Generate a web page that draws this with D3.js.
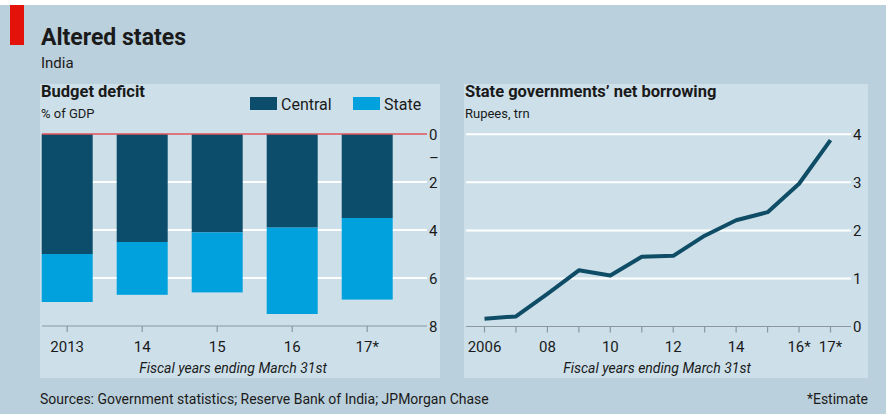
<!DOCTYPE html>
<html><head><meta charset="utf-8">
<script src="https://cdn.jsdelivr.net/npm/d3@7"></script>
<style>
html,body{margin:0;padding:0;background:#fff;}
svg text{font-family:Roboto,"Open Sans",sans-serif;fill:#1a1a1a;}
</style></head><body>
<svg id="c" width="886" height="414"></svg>
<script>
// ---- data ----
const barYears = ["2013","14","15","16","17*"];
const central = [5.0, 4.5, 4.1, 3.9, 3.5];
const state   = [2.0, 2.2, 2.5, 3.6, 3.4];
const leftTicks = [0, 2, 4, 6, 8];

const lineYears = [2006,2007,2008,2009,2010,2011,2012,2013,2014,2015,2016,2017];
const borrowing = [0.16,0.21,0.68,1.17,1.06,1.45,1.47,1.89,2.21,2.38,2.97,3.88];
const lineTickLabels = {2006:"2006",2008:"08",2010:"10",2012:"12",2014:"14",2016:"16*",2017:"17*"};
const rightTicks = [0,1,2,3,4];

const C_CENTRAL="#0b4d6a", C_STATE="#00a1dc", C_LINE="#0f4c66";
const svg=d3.select("#c");
svg.append("rect").attr("x",0).attr("y",0).attr("width",886).attr("height",414).attr("fill","#fff");
svg.append("rect").attr("x",0).attr("y",5).attr("width",886).attr("height",409).attr("fill","#bad0dc");
svg.append("rect").attr("x",10).attr("y",5).attr("width",14).attr("height",40).attr("fill","#e3120b");

// panels
svg.append("rect").attr("x",40).attr("y",84).attr("width",400).attr("height",294).attr("fill","#cde0ea");
svg.append("rect").attr("x",464).attr("y",84).attr("width",404).attr("height",294).attr("fill","#cde0ea");

// titles
svg.append("text").attr("x",41).attr("y",45).attr("font-size",23).attr("font-weight",700).text("Altered states");
svg.append("text").attr("x",41).attr("y",68).attr("font-size",15).text("India");
svg.append("text").attr("x",41).attr("y",97).attr("font-size",16.5).attr("font-weight",700).text("Budget deficit");
svg.append("text").attr("x",41).attr("y",118).attr("font-size",13).text("% of GDP");
svg.append("text").attr("x",465).attr("y",97).attr("font-size",16.5).attr("font-weight",700).text("State governments’ net borrowing");
svg.append("text").attr("x",465).attr("y",118).attr("font-size",13).text("Rupees, trn");

// legend
const leg=[["Central",C_CENTRAL,250],["State",C_STATE,353]];
leg.forEach(([t,c,x])=>{
  svg.append("rect").attr("x",x).attr("y",97).attr("width",27).attr("height",13).attr("fill",c);
  svg.append("text").attr("x",x+31).attr("y",110).attr("font-size",16).text(t);
});

// ---- left chart ----
const xb=d3.scaleBand().domain(barYears).range([41.7,392.7]).paddingInner(0.32).paddingOuter(0);
const yb=d3.scaleLinear().domain([0,8]).range([134,326]);
const gL=svg.append("g");
leftTicks.filter(v=>v>0&&v<8).forEach(v=>{
  gL.append("line").attr("x1",42).attr("x2",427).attr("y1",yb(v)).attr("y2",yb(v)).attr("stroke","#fff").attr("stroke-width",2);
});
barYears.forEach((yr,i)=>{
  gL.append("rect").attr("x",xb(yr)).attr("width",xb.bandwidth()).attr("y",yb(0)).attr("height",yb(central[i])-yb(0)).attr("fill",C_CENTRAL);
  gL.append("rect").attr("x",xb(yr)).attr("width",xb.bandwidth()).attr("y",yb(central[i])).attr("height",yb(central[i]+state[i])-yb(central[i])).attr("fill",C_STATE);
});
gL.append("line").attr("x1",42).attr("x2",427).attr("y1",yb(0)).attr("y2",yb(0)).attr("stroke","#e0535b").attr("stroke-width",1.5);
gL.append("line").attr("x1",42).attr("x2",427).attr("y1",yb(8)).attr("y2",yb(8)).attr("stroke","#8a979e").attr("stroke-width",1.2);
barYears.forEach(yr=>{
  const cx=xb(yr)+xb.bandwidth()/2;
  gL.append("line").attr("x1",cx).attr("x2",cx).attr("y1",yb(8)).attr("y2",yb(8)+6).attr("stroke","#8a979e").attr("stroke-width",1.2);
  gL.append("text").attr("x",cx).attr("y",352).attr("text-anchor","middle").attr("font-size",15).text(yr);
});
leftTicks.forEach(v=>{
  gL.append("text").attr("x",429).attr("y",yb(v)+5.5).attr("font-size",15).text(v);
});
gL.append("text").attr("x",429).attr("y",yb(1)+5).attr("font-size",15).text("–");
gL.append("text").attr("x",233).attr("y",373).attr("text-anchor","middle").attr("font-size",14).attr("font-style","italic").text("Fiscal years ending March 31st");

// ---- right chart ----
const xl=d3.scaleLinear().domain([2006,2017]).range([484.5,830.5]);
const yl=d3.scaleLinear().domain([0,4]).range([326.5,134.3]);
const gR=svg.append("g");
rightTicks.filter(v=>v>0).forEach(v=>{
  gR.append("line").attr("x1",466).attr("x2",851).attr("y1",yl(v)).attr("y2",yl(v)).attr("stroke","#fff").attr("stroke-width",2);
});
gR.append("line").attr("x1",466).attr("x2",851).attr("y1",yl(0)).attr("y2",yl(0)).attr("stroke","#8a979e").attr("stroke-width",1.2);
lineYears.forEach(yr=>{
  gR.append("line").attr("x1",xl(yr)).attr("x2",xl(yr)).attr("y1",yl(0)).attr("y2",yl(0)+6).attr("stroke","#8a979e").attr("stroke-width",1.2);
  if(lineTickLabels[yr]){
    gR.append("text").attr("x",xl(yr)).attr("y",352).attr("text-anchor","middle").attr("font-size",15).text(lineTickLabels[yr]);
  }
});
rightTicks.forEach(v=>{
  gR.append("text").attr("x",853).attr("y",yl(v)+5.5).attr("font-size",15).text(v);
});
const line=d3.line().x((d,i)=>xl(lineYears[i])).y(d=>yl(d));
gR.append("path").datum(borrowing).attr("d",line).attr("fill","none").attr("stroke",C_LINE).attr("stroke-width",4).attr("stroke-linejoin","round");
gR.append("text").attr("x",657).attr("y",373).attr("text-anchor","middle").attr("font-size",14).attr("font-style","italic").text("Fiscal years ending March 31st");

// footer
svg.append("text").attr("x",40).attr("y",404).attr("font-size",14).text("Sources: Government statistics; Reserve Bank of India; JPMorgan Chase");
svg.append("text").attr("x",868).attr("y",404).attr("text-anchor","end").attr("font-size",14).text("*Estimate");
</script></body></html>
